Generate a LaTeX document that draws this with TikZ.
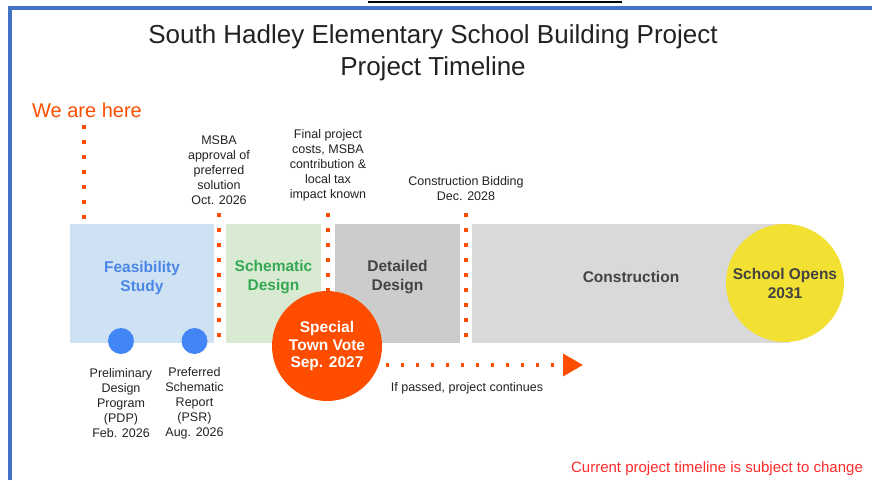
\documentclass[tikz,border=0pt]{standalone}
\usepackage{fontspec}
\setmainfont{Liberation Sans}
\usetikzlibrary{arrows.meta}
\definecolor{frameblue}{HTML}{4472C4}
\definecolor{hot}{HTML}{FF4D00}
\definecolor{feasfill}{HTML}{CFE2F3}
\definecolor{feastext}{HTML}{4A86E8}
\definecolor{schemfill}{HTML}{D9EAD3}
\definecolor{schemtext}{HTML}{34A853}
\definecolor{detfill}{HTML}{CCCCCC}
\definecolor{consfill}{HTML}{D9D9D9}
\definecolor{darktext}{HTML}{434343}
\definecolor{opensfill}{HTML}{F2E132}
\definecolor{pin}{HTML}{4285F4}
\definecolor{txt}{HTML}{222222}
\definecolor{warn}{HTML}{FF2A2A}
\tikzset{
  phase/.style={rectangle, minimum height=119pt, inner sep=0pt},
  phaselbl/.style={align=center, inner sep=0pt, font=\fontsize{15.5}{19}\selectfont\bfseries},
  note/.style={align=center, inner sep=0pt, text=txt, font=\fontsize{12.5}{15}\selectfont},
  dotline/.style={draw=hot, line width=3.5pt, dash pattern=on 3.5pt off 11.5pt},
  milestone/.style={circle, fill=pin, minimum size=26pt, inner sep=0pt}
}
\begin{document}
\begin{tikzpicture}[x=1pt, y=-1pt]
  \useasboundingbox (0,0) rectangle (872,480);
  \draw[frameblue, line width=4pt] (10,480) -- (10,8) -- (872,8);
  \draw[black, line width=2pt] (368,2) -- (622,2);
  \node[align=center, inner sep=0pt, text=txt, font=\fontsize{26}{32}\selectfont] (title) at (433,53)
    {South Hadley Elementary School Building Project\\Project Timeline};
  \node[inner sep=0pt, text=hot, font=\fontsize{20}{24}\selectfont] (here) at (87,110) {We are here};
  \coordinate (here1) at (84,125);
  \coordinate (here2) at (84,220);
  \draw[dotline] (here1) -- (here2);
  \node[note] (msba) at (219,170) {MSBA\\approval of\\preferred\\solution\\Oct. 2026};
  \node[note] (costs) at (328,165) {Final project\\costs, MSBA\\contribution \&\\local tax\\impact known};
  \node[note] (bid) at (466,188.5) {Construction Bidding\\Dec. 2028};
  \node[phase, fill=feasfill, minimum width=144pt] (feas) at (142,283.5) {};
  \node[phase, fill=schemfill, minimum width=95pt] (schem) at (273.5,283.5) {};
  \node[phase, fill=detfill, minimum width=125pt] (det) at (397.5,283.5) {};
  \node[phase, fill=consfill, minimum width=318pt] (cons) at (631,283.5) {};
  \node[phaselbl, text=feastext] at ([yshift=5.5pt]feas.center) {Feasibility\\Study};
  \node[phaselbl, text=schemtext] at ([yshift=6.5pt]schem.center) {Schematic\\Design};
  \node[phaselbl, text=darktext] at ([yshift=6.5pt]det.center) {Detailed\\Design};
  \node[phaselbl, text=darktext] at ([yshift=6.5pt]cons.center) {Construction};
  \coordinate (msba1) at (219,213);
  \coordinate (msba2) at (219,343);
  \coordinate (costs1) at (328,213);
  \coordinate (costs2) at (328,300);
  \coordinate (bid1) at (466,213);
  \coordinate (bid2) at (466,343);
  \draw[dotline] (msba1) -- (msba2);
  \draw[dotline] (costs1) -- (costs2);
  \draw[dotline] (bid1) -- (bid2);
  \node[circle, fill=opensfill, minimum size=118pt, inner sep=0pt, align=center, text=darktext,
    font=\fontsize{15.5}{19}\selectfont\bfseries] (opens) at (785,283) {School Opens\\2031};
  \node[milestone] (pdp) at (121,341) {};
  \node[milestone] (psr) at (194.5,341) {};
  \node[note] (pdptxt) at (121,403) {Preliminary\\Design\\Program\\(PDP)\\Feb. 2026};
  \node[note] (psrtxt) at (194.5,403) {Preferred\\Schematic\\Report\\(PSR)\\Aug. 2026};
  \node[circle, fill=hot, minimum size=110pt, inner sep=0pt, align=center, text=white,
    font=\fontsize{15.5}{17.5}\selectfont\bfseries] (vote) at (327,346) {Special\\Town Vote\\Sep. 2027};
  \coordinate (pass1) at (385.5,365);
  \coordinate (pass2) at (583,365);
  \draw[dotline, -{Triangle[length=20pt, width=22pt, fill=hot]}] (pass1) -- (pass2);
  \node[note] (passed) at (467,388) {If passed, project continues};
  \node[inner sep=0pt, text=warn, font=\fontsize{15}{18}\selectfont] (change) at (717,469)
    {Current project timeline is subject to change};
\end{tikzpicture}
\end{document}
